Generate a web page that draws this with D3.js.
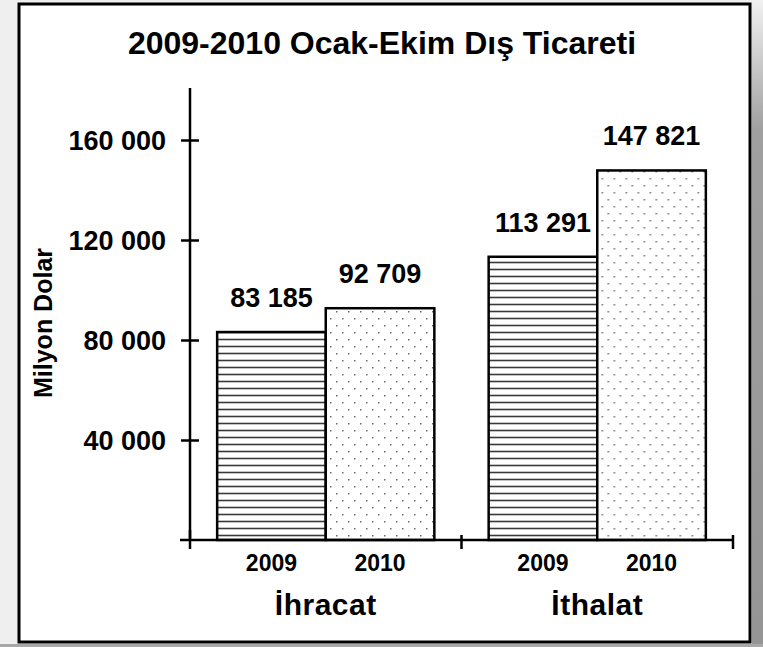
<!DOCTYPE html>
<html>
<head>
<meta charset="utf-8">
<script src="https://cdn.jsdelivr.net/npm/d3@7"></script>
<style>
  body { margin: 0; background: #efefef; }
  svg text { font-family: "Liberation Sans", Arial, sans-serif; font-weight: bold; fill: #000; }
</style>
</head>
<body>
<svg id="chart" width="763" height="647"></svg>
<script>
// veriler
const kategoriler = ["İhracat", "İthalat"];
const yillar = ["2009", "2010"];
const degerler2009 = [83185, 113291];
const degerler2010 = [92709, 147821];
const yTikler = [40000, 80000, 120000, 160000];
const baslik = "2009-2010 Ocak-Ekim Dış Ticareti";
const yEksenBaslik = "Milyon Dolar";

const width = 763, height = 647;
const svg = d3.select("#chart");
const defs = svg.append("defs");
const binlik = d => d3.format(",")(d).replace(/,/g, " ");

// sağ kenardaki gri geçiş
const grad = defs.append("linearGradient").attr("id", "sagGolge")
    .attr("x1", 0).attr("y1", 0).attr("x2", 0).attr("y2", 1);
grad.append("stop").attr("offset", "0").attr("stop-color", "#f2f2f2");
grad.append("stop").attr("offset", "0.2").attr("stop-color", "#a0a0a0");
grad.append("stop").attr("offset", "1").attr("stop-color", "#959595");

svg.append("rect").attr("x", 0).attr("y", 0).attr("width", width).attr("height", height).attr("fill", "#efefef");
svg.append("rect").attr("x", 752).attr("y", 0).attr("width", 11).attr("height", height).attr("fill", "url(#sagGolge)");
svg.append("rect").attr("x", 0).attr("y", 644).attr("width", width).attr("height", 3).attr("fill", "#a8a8a8");

// desenler
const cizgili = defs.append("pattern").attr("id", "cizgili")
    .attr("patternUnits", "userSpaceOnUse").attr("width", 8).attr("height", 7);
cizgili.append("rect").attr("width", 8).attr("height", 7).attr("fill", "#fff");
cizgili.append("line").attr("x1", 0).attr("x2", 8).attr("y1", 3.5).attr("y2", 3.5)
    .attr("stroke", "#3a3a3a").attr("stroke-width", 1.6);

const noktali = defs.append("pattern").attr("id", "noktali")
    .attr("patternUnits", "userSpaceOnUse").attr("width", 12).attr("height", 14);
noktali.append("rect").attr("width", 12).attr("height", 14).attr("fill", "#fff");
noktali.append("rect").attr("x", 2).attr("y", 3).attr("width", 1.5).attr("height", 1.5).attr("fill", "#6a6a6a");
noktali.append("rect").attr("x", 8).attr("y", 10).attr("width", 1.5).attr("height", 1.5).attr("fill", "#6a6a6a");

// çerçeve
svg.append("rect").attr("x", 19).attr("y", 4).attr("width", 731).attr("height", 638)
    .attr("fill", "#fff").attr("stroke", "#000").attr("stroke-width", 3);

// başlık
svg.append("text").attr("x", 382).attr("y", 54).attr("text-anchor", "middle")
    .style("font-size", "32px").text(baslik);

// ölçekler
const x0 = d3.scaleBand().domain(kategoriler).range([190, 733]).padding(0);
const x1 = d3.scaleBand().domain(yillar).range([0, x0.bandwidth()]).paddingInner(0).paddingOuter(0.25);
const y = d3.scaleLinear().domain([0, 180000]).range([540, 90]);

const veri = kategoriler.map((k, i) => ({
    kategori: k,
    degerler: [
        { yil: yillar[0], deger: degerler2009[i] },
        { yil: yillar[1], deger: degerler2010[i] }
    ]
}));

const gruplar = svg.selectAll("g.grup").data(veri).enter().append("g")
    .attr("class", "grup")
    .attr("transform", d => `translate(${x0(d.kategori)},0)`);

gruplar.selectAll("rect").data(d => d.degerler).enter().append("rect")
    .attr("x", d => x1(d.yil))
    .attr("y", d => y(d.deger))
    .attr("width", x1.bandwidth())
    .attr("height", d => y(0) - y(d.deger))
    .attr("fill", d => d.yil === "2009" ? "url(#cizgili)" : "url(#noktali)")
    .attr("stroke", "#000").attr("stroke-width", 2.5);

// değer etiketleri
gruplar.selectAll("text.deger").data(d => d.degerler).enter().append("text")
    .attr("class", "deger")
    .attr("x", d => x1(d.yil) + x1.bandwidth() / 2)
    .attr("y", d => y(d.deger) - 25)
    .attr("text-anchor", "middle")
    .style("font-size", "27px")
    .text(d => binlik(d.deger));

// y ekseni
const yEksen = svg.append("g").attr("transform", "translate(190,0)")
    .call(d3.axisLeft(y).tickValues(yTikler).tickSizeOuter(0).tickSizeInner(9).tickPadding(15)
        .tickFormat(binlik));
yEksen.select(".domain").attr("stroke-width", 2.5).attr("d", "M0,88V540");
yEksen.selectAll(".tick line").attr("x1", 9).attr("stroke-width", 2.5);
yEksen.selectAll(".tick text").style("font-size", "27px").attr("dy", "0.36em");

// x ekseni
svg.append("line").attr("x1", 180).attr("x2", 733).attr("y1", 540).attr("y2", 540)
    .attr("stroke", "#000").attr("stroke-width", 2.5);
const sinirlar = [x0.range()[0]].concat(kategoriler.map(k => x0(k) + x0.bandwidth()));
svg.selectAll("line.xtik").data(sinirlar).enter().append("line")
    .attr("class", "xtik")
    .attr("x1", d => d).attr("x2", d => d)
    .attr("y1", (d, i) => i === 0 ? 530 : 535).attr("y2", 549)
    .attr("stroke", "#000").attr("stroke-width", 2.5);

// yıl etiketleri
gruplar.selectAll("text.yil").data(d => d.degerler).enter().append("text")
    .attr("class", "yil")
    .attr("x", d => x1(d.yil) + x1.bandwidth() / 2)
    .attr("y", 571)
    .attr("text-anchor", "middle")
    .style("font-size", "23px")
    .text(d => d.yil);

// kategori etiketleri
svg.selectAll("text.kat").data(kategoriler).enter().append("text")
    .attr("class", "kat")
    .attr("x", d => x0(d) + x0.bandwidth() / 2)
    .attr("y", 615)
    .attr("text-anchor", "middle")
    .style("font-size", "30px").style("letter-spacing", "0.5px")
    .text(d => d);

// y ekseni başlığı
svg.append("text")
    .attr("transform", "translate(52,323) rotate(-90)")
    .attr("text-anchor", "middle")
    .style("font-size", "25px")
    .text(yEksenBaslik);
</script>
</body>
</html>
